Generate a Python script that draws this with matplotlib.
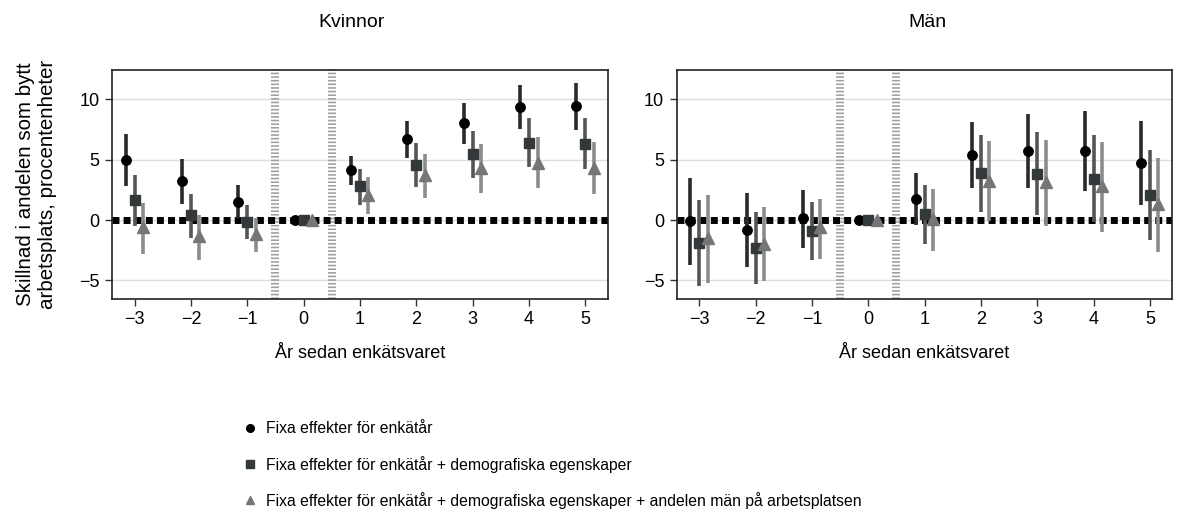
import numpy as np
import matplotlib
matplotlib.use("Agg")
import matplotlib.pyplot as plt
from matplotlib.lines import Line2D

years = [-3, -2, -1, 0, 1, 2, 3, 4, 5]
panels = ["Kvinnor", "Män"]
series_labels = [
    "Fixa effekter för enkätår",
    "Fixa effekter för enkätår + demografiska egenskaper",
    "Fixa effekter för enkätår + demografiska egenskaper + andelen män på arbetsplatsen",
]

# Kvinnor: estimates, lower and upper CI
kv_est_1 = [5.0, 3.23, 1.49, 0.0, 4.12, 6.74, 8.07, 9.39, 9.48]
kv_lo_1 = [2.85, 1.35, 0.17, 0.0, 2.93, 5.17, 6.33, 7.57, 7.49]
kv_hi_1 = [7.15, 5.08, 2.93, 0.0, 5.33, 8.23, 9.72, 11.2, 11.38]

kv_est_2 = [1.66, 0.41, -0.14, 0.0, 2.79, 4.56, 5.44, 6.38, 6.3]
kv_lo_2 = [-0.47, -1.46, -1.55, 0.0, 1.27, 2.76, 3.51, 4.36, 4.2]
kv_hi_2 = [3.76, 2.18, 1.27, 0.0, 4.25, 6.41, 7.4, 8.48, 8.48]

kv_est_3 = [-0.55, -1.35, -1.19, 0.0, 2.1, 3.7, 4.31, 4.75, 4.35]
kv_lo_3 = [-2.85, -3.29, -2.68, 0.0, 0.52, 1.8, 2.27, 2.62, 2.13]
kv_hi_3 = [1.41, 0.44, 0.19, 0.0, 3.59, 5.5, 6.33, 6.9, 6.5]

# Män
man_est_1 = [-0.1, -0.83, 0.14, 0.0, 1.74, 5.36, 5.75, 5.69, 4.72]
man_lo_1 = [-3.76, -3.87, -2.35, 0.0, -0.44, 2.62, 2.62, 2.38, 1.22]
man_hi_1 = [3.48, 2.27, 2.51, 0.0, 3.92, 8.15, 8.81, 9.06, 8.23]

man_est_2 = [-1.91, -2.35, -0.91, 0.0, 0.5, 3.9, 3.81, 3.4, 2.1]
man_lo_2 = [-5.5, -5.33, -3.29, 0.0, -2.02, 0.64, 0.39, -0.19, -1.69]
man_hi_2 = [1.69, 0.69, 1.52, 0.0, 2.93, 7.07, 7.32, 7.07, 5.83]

man_est_3 = [-1.52, -1.96, -0.61, 0.0, 0.08, 3.26, 3.12, 2.82, 1.3]
man_lo_3 = [-5.25, -5.08, -3.2, 0.0, -2.54, -0.11, -0.52, -1.02, -2.62]
man_hi_3 = [2.1, 1.1, 1.77, 0.0, 2.6, 6.57, 6.66, 6.49, 5.17]

data = {
    "Kvinnor": [(kv_est_1, kv_lo_1, kv_hi_1), (kv_est_2, kv_lo_2, kv_hi_2), (kv_est_3, kv_lo_3, kv_hi_3)],
    "Män": [(man_est_1, man_lo_1, man_hi_1), (man_est_2, man_lo_2, man_hi_2), (man_est_3, man_lo_3, man_hi_3)],
}

offsets = [-0.16, 0.0, 0.15]
markers = ["o", "s", "^"]
marker_colors = ["#000000", "#33383b", "#767676"]
ci_colors = ["#2a2a2a", "#555555", "#8c8c8c"]
marker_sizes = [6.8, 7.2, 8.0]

plt.rcParams["font.family"] = ["Liberation Sans", "DejaVu Sans"]
fig = plt.figure(figsize=(11.79, 5.09), dpi=100)
ax_l = fig.add_axes([0.095, 0.4126, 0.4207, 0.45])
ax_r = fig.add_axes([0.574, 0.4126, 0.4204, 0.45])

x = np.array(years, dtype=float)
for ax, name in zip([ax_l, ax_r], panels):
    for yv in [-5, 0, 5, 10]:
        ax.axhline(yv, color="#dddddd", lw=1.0, zorder=0)
    for xv in [-0.5, 0.5]:
        ax.axvline(xv, color="#a0a0a0", lw=5.8, linestyle=(0, (0.2, 0.25)), zorder=1)
    ax.axhline(0, color="black", lw=5.0, linestyle=(0, (1.0, 0.6)), zorder=2)

    for i, (est, lo, hi) in enumerate(data[name]):
        xs = x + offsets[i]
        ax.vlines(xs, lo, hi, color=ci_colors[i], lw=2.6, zorder=3)
        ax.plot(xs, est, linestyle="none", marker=markers[i], ms=marker_sizes[i],
                color=marker_colors[i], zorder=4)

    ax.set_xlim(-3.4, 5.4)
    ax.set_ylim(-6.55, 12.45)
    ax.set_xticks(years)
    ax.set_xticklabels([str(v).replace("-", "\u2212") for v in years])
    ax.set_yticks([-5, 0, 5, 10])
    ax.set_yticklabels(["\u22125", "0", "5", "10"])
    ax.tick_params(axis="both", labelsize=13, length=5, width=1, color="#333333", pad=4)
    for s in ax.spines.values():
        s.set_color("#222222")
        s.set_linewidth(1.2)
    ax.set_xlabel("År sedan enkätsvaret", fontsize=13, labelpad=12)

fig.text(0.298, 0.955, "Kvinnor", ha="center", va="center", fontsize=14)
fig.text(0.787, 0.955, "Män", ha="center", va="center", fontsize=14)
ax_l.set_ylabel("Skillnad i andelen som bytt\narbetsplats, procentenheter", fontsize=14.8,
                labelpad=16, linespacing=1.2)

handles = [Line2D([], [], linestyle="none", marker=markers[i], ms=5.5,
                  color=marker_colors[i]) for i in range(3)]
fig.legend(handles, series_labels, loc="upper left", bbox_to_anchor=(0.2, 0.1875),
           frameon=False, fontsize=11.3, handlelength=0.8, handletextpad=0.6,
           labelspacing=1.22, borderpad=0)

fig.savefig("out.png", dpi=100)
